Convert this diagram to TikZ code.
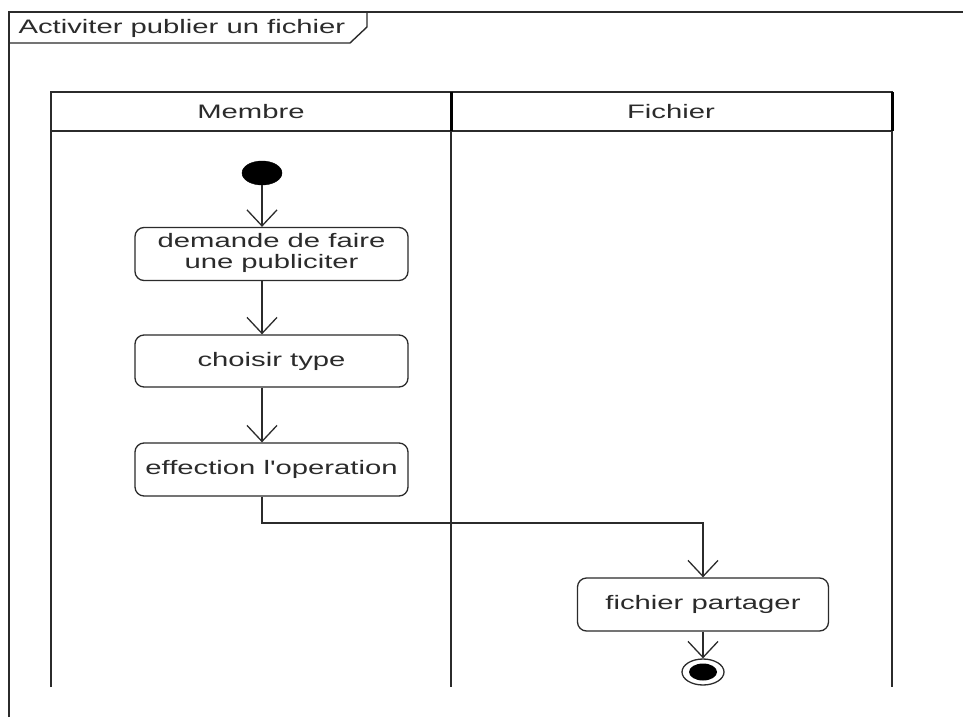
\documentclass[tikz,border=0pt]{standalone}
\usepackage{fontspec}
\setmainfont{Liberation Sans}[Ligatures=TeXOff]
\usetikzlibrary{arrows.meta,shapes.geometric}
\definecolor{ink}{HTML}{2B2B2B}
% wide lettering used throughout the diagram
\newcommand{\widetext}[1]{\scalebox{1.5}[1]{#1}}
\begin{document}
\begin{tikzpicture}[x=1pt,y=-1pt,
  every node/.style={font=\fontsize{19.5}{21}\selectfont, text=ink},
  frameline/.style={draw=ink, line width=1.4pt},
  laneline/.style={draw=ink, line width=1.4pt},
  lanethick/.style={draw=black, line width=3pt},
  action/.style={draw=ink, line width=1.3pt, rounded corners=9pt,
    minimum width=273pt, minimum height=53pt, inner sep=0pt, align=center},
  flow/.style={draw=ink, line width=1.3pt,
    -{Straight Barb[length=16pt, width=30pt, line width=1.3pt]}}
]
\useasboundingbox (0,0) rectangle (963,717);
\fill[white] (0,0) rectangle (963,717);

% diagram frame with its name tab
\draw[frameline] (9,717) -- (9,12) -- (963,12);
\draw[frameline] (9,43) -- (350,43) -- (367,27) -- (367,12);
\node[anchor=west] (title) at (15,28) {\widetext{Activiter publier un fichier}};

% swimlanes
\draw[laneline] (51,687) -- (51,92) -- (892,92) -- (892,687);
\draw[laneline] (451,92) -- (451,687);
\draw[laneline] (51,131) -- (892,131);
\draw[lanethick] (451,92) -- (451,131);
\draw[lanethick] (892,92) -- (892,131);
\node (lane1) at (251,112) {\widetext{Membre}};
\node (lane2) at (671,112) {\widetext{Fichier}};

% initial node
\node[ellipse, fill=black, draw=black, minimum width=40pt, minimum height=24pt,
  inner sep=0pt] (init) at (262,173) {};

% actions
\node[action] (b1) at (271.5,254)
  {\widetext{\begin{tabular}{@{}c@{}}demande de faire\\une publiciter\end{tabular}}};
\node[action, minimum height=52pt] (b2) at (271.5,361) {\widetext{choisir type}};
\node[action] (b3) at (271.5,469.5) {\widetext{effection l'operation}};
\node[action, minimum width=251pt] (b4) at (703,604.5) {\widetext{fichier partager}};

% final node
\node[ellipse, draw=ink, fill=white, line width=1.3pt, minimum width=42pt,
  minimum height=26pt, inner sep=0pt] (fin) at (703,672) {};
\node[ellipse, fill=black, minimum width=28pt, minimum height=17pt,
  inner sep=0pt] (fincore) at (fin.center) {};

% control flow
\coordinate (bend) at (262,523);
\draw[flow] (init) -- (init |- b1.north);
\draw[flow] (b1.south -| init) -- (b2.north -| init);
\draw[flow] (b2.south -| init) -- (b3.north -| init);
\draw[flow] (b3.south -| init) -- (bend) -| (b4.north);
\draw[flow] (b4.south) -- (fin.north);
\end{tikzpicture}
\end{document}
